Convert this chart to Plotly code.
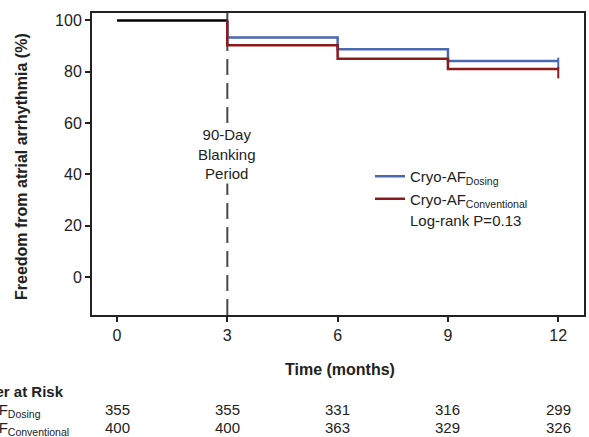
import plotly.graph_objects as go

# ---- data ----
months = [0, 3, 6, 9, 12]
blank_t = [0, 3]
blank_v = [100, 100]
dosing_t = [3, 3, 6, 9, 12]
dosing_v = [100, 93.4, 88.8, 84.2, 84.2]
conv_t = [3, 3, 6, 9, 12]
conv_v = [100, 90.3, 85.1, 81.1, 81.1]
dosing_cens_t = [12]
dosing_cens_v = [83.3]
conv_cens_t = [12]
conv_cens_v = [79.6]
dosing_risk = [355, 355, 331, 316, 299]
conv_risk = [400, 400, 363, 329, 326]
tick_vals_y = [0, 20, 40, 60, 80, 100]

BLUE = "#4a68b0"
RED = "#8b1a1a"
FONT = "Arial, Liberation Sans, sans-serif"

W, H = 589, 437
L, R, T, B = 92, 5, 13, 122
PW, PH = W - L - R, H - T - B


def px(x):
    return (x - L) / PW


def py(y):
    return (H - B - y) / PH


fig = go.Figure()
fig.add_trace(go.Scatter(x=blank_t, y=blank_v, mode="lines", line=dict(color="black", width=2.5),
                         showlegend=False, hoverinfo="skip"))
fig.add_trace(go.Scatter(x=dosing_t, y=dosing_v, mode="lines", line=dict(color=BLUE, width=2.5, shape="hv"),
                         name="Cryo-AF<sub>Dosing</sub>"))
fig.add_trace(go.Scatter(x=conv_t, y=conv_v, mode="lines", line=dict(color=RED, width=2.5, shape="hv"),
                         name="Cryo-AF<sub>Conventional</sub>"))
fig.add_trace(go.Scatter(x=dosing_cens_t, y=dosing_cens_v, mode="markers",
                         marker=dict(symbol="line-ns", size=8, line=dict(color=BLUE, width=2)),
                         showlegend=False))
fig.add_trace(go.Scatter(x=conv_cens_t, y=conv_cens_v, mode="markers",
                         marker=dict(symbol="line-ns", size=8, line=dict(color=RED, width=2)),
                         showlegend=False))

# blanking period dashed line
fig.add_shape(type="line", x0=3, x1=3, xref="x", y0=0, y1=1, yref="paper",
              line=dict(color="#4a4a4a", width=2, dash="16px,8px"), layer="below")

annotations = []
annotations.append(dict(x=3, xref="x", y=40 + 8, yref="y", text="90-Day<br>Blanking<br>Period",
                        showarrow=False, font=dict(size=15, color="#222"), bgcolor="white",
                        xanchor="center", yanchor="middle", align="center"))
annotations.append(dict(x=px(408), xref="paper", y=py(220), yref="paper", text="Log-rank P=0.13",
                        showarrow=False, font=dict(size=15, color="#222"), xanchor="left", yanchor="middle"))
# y title
annotations.append(dict(x=px(22), xref="paper", y=py(167), yref="paper",
                        text="<b>Freedom from atrial arrhythmia (%)</b>", textangle=-90,
                        showarrow=False, font=dict(size=16, color="#222"), xanchor="center", yanchor="middle"))
# x title
annotations.append(dict(x=px(340), xref="paper", y=py(369), yref="paper", text="<b>Time (months)</b>",
                        showarrow=False, font=dict(size=16, color="#222"), xanchor="center", yanchor="middle"))
# number at risk
annotations.append(dict(x=px(66), xref="paper", y=py(391), yref="paper", text="<b>Number at Risk</b>",
                        showarrow=False, font=dict(size=15, color="#222"), xanchor="right", yanchor="middle"))
annotations.append(dict(x=px(43), xref="paper", y=py(410), yref="paper", text="Cryo-AF<sub>Dosing</sub>",
                        showarrow=False, font=dict(size=15, color="#222"), xanchor="right", yanchor="middle"))
annotations.append(dict(x=px(71), xref="paper", y=py(428), yref="paper", text="Cryo-AF<sub>Conventional</sub>",
                        showarrow=False, font=dict(size=15, color="#222"), xanchor="right", yanchor="middle"))
for m, d, c in zip(months, dosing_risk, conv_risk):
    annotations.append(dict(x=m, xref="x", y=py(409), yref="paper", text=str(d), showarrow=False,
                            font=dict(size=15, color="#222"), xanchor="center", yanchor="middle"))
    annotations.append(dict(x=m, xref="x", y=py(427), yref="paper", text=str(c), showarrow=False,
                            font=dict(size=15, color="#222"), xanchor="center", yanchor="middle"))

fig.update_layout(
    width=W, height=H,
    margin=dict(l=L, r=R, t=T, b=B, autoexpand=False),
    paper_bgcolor="white", plot_bgcolor="white",
    font=dict(family=FONT, color="#222"),
    annotations=annotations,
    legend=dict(x=px(370), y=py(160), xanchor="left", yanchor="top", bgcolor="rgba(0,0,0,0)",
                font=dict(size=15, color="#222"), tracegroupgap=0, itemwidth=30),
    xaxis=dict(range=[-0.68, 12.7], tickvals=months, showgrid=False, zeroline=False,
               showline=True, linecolor="#222", linewidth=2, mirror=True,
               ticks="outside", ticklen=5, tickwidth=2, tickcolor="#222",
               tickfont=dict(size=16, color="#222")),
    yaxis=dict(range=[-14.8, 102.9], tickvals=tick_vals_y, showgrid=False, zeroline=False,
               showline=True, linecolor="#222", linewidth=2, mirror=True,
               ticks="outside", ticklen=5, tickwidth=2, tickcolor="#222",
               tickfont=dict(size=16, color="#222")),
)

fig.write_html("out.html", config={"displayModeBar": False},
               post_script="document.body.style.margin='0';document.body.style.overflow='hidden';")
